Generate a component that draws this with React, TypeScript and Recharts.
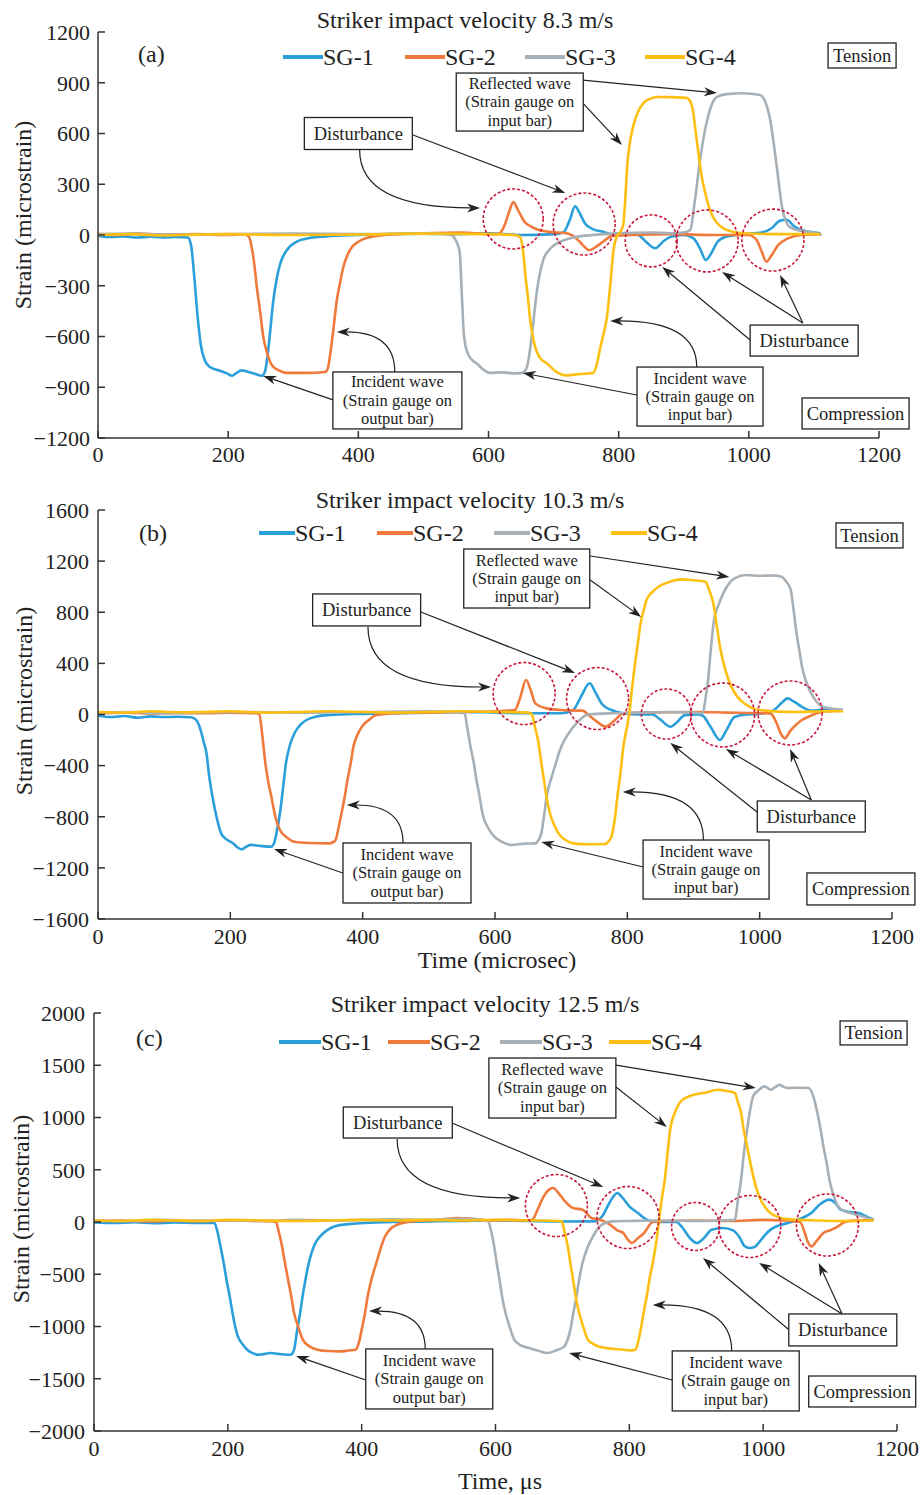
import React from 'react';
import { LineChart, Line, XAxis, YAxis, ReferenceDot, ReferenceLine } from 'recharts';

type Pt = [number, number];
type Box = { t: number; v: number; lines: string[]; w: number; h: number };
type Arrow = { from: Pt; to: Pt; curved?: boolean };
type Circ = { t: number; v: number; r: number };

const FONT = '"Liberation Serif", "Times New Roman", Times, serif';
const SERIES_NAMES = ['SG-1', 'SG-2', 'SG-3', 'SG-4'];
const SERIES_COLORS = ['#2b9fd9', '#ef7a3c', '#a7b0b7', '#fdc012'];
const X_TICKS = [0, 200, 400, 600, 800, 1000, 1200];
const A_Y_TICKS = [-1200, -900, -600, -300, 0, 300, 600, 900, 1200];
const B_Y_TICKS = [-1600, -1200, -800, -400, 0, 400, 800, 1200, 1600];
const C_Y_TICKS = [-2000, -1500, -1000, -500, 0, 500, 1000, 1500, 2000];

// ---------- Panel (a): 8.3 m/s ----------
const A_SG1: Pt[] = [[0,-5],[20,-12],[40,-8],[60,-15],[80,-10],[100,-14],[120,-12],[138,-15],[143,-60],[148,-250],[153,-480],[158,-650],[164,-740],[172,-780],[185,-800],[198,-818],[206,-832],[212,-818],[220,-800],[230,-808],[242,-822],[252,-832],[257,-800],[261,-700],[265,-550],[269,-400],[274,-270],[280,-170],[290,-90],[305,-40],[325,-18],[350,-8],[400,0],[450,5],[500,8],[550,5],[600,10],[650,0],[700,5],[715,15],[725,90],[733,170],[740,130],[748,70],[760,35],[775,20],[790,5],[810,10],[830,0],[842,-40],[856,-78],[868,-40],[880,-10],[900,0],[915,-20],[925,-80],[934,-148],[942,-110],[952,-40],[965,-10],[990,5],[1020,15],[1035,40],[1048,85],[1058,90],[1070,50],[1085,25],[1100,15],[1110,10]];
const A_SG2: Pt[] = [[0,5],[30,0],[60,8],[100,2],[150,5],[200,0],[225,3],[232,-10],[237,-90],[241,-200],[244,-307],[249,-450],[254,-603],[260,-700],[267,-768],[278,-800],[290,-815],[320,-815],[349,-810],[353,-790],[357,-700],[361,-580],[367,-384],[372,-280],[377,-189],[387,-89],[400,-40],[415,-15],[440,0],[500,10],[560,15],[600,5],[615,5],[625,60],[632,140],[638,195],[645,150],[655,80],[667,47],[690,20],[720,10],[735,-20],[745,-60],[755,-90],[765,-70],[776,-40],[790,-5],[820,0],[880,5],[950,0],[1000,0],[1012,-30],[1020,-100],[1027,-158],[1035,-120],[1045,-60],[1060,-20],[1080,0],[1110,5]];
const A_SG3: Pt[] = [[0,5],[50,8],[100,3],[200,5],[300,8],[400,5],[500,10],[540,5],[548,-20],[553,-60],[556,-110],[559,-350],[562,-580],[567,-690],[575,-740],[582,-760],[592,-795],[602,-815],[620,-812],[640,-818],[652,-815],[659,-780],[663,-700],[667,-580],[674,-343],[684,-148],[695,-80],[710,-40],[730,-15],[760,0],[800,10],[850,15],[880,10],[900,15],[910,30],[917,200],[925,443],[935,662],[943,770],[951,816],[966,833],[990,838],[1017,828],[1025,790],[1032,698],[1043,402],[1051,166],[1063,47],[1080,25],[1094,18],[1112,0]];
const A_SG4: Pt[] = [[0,0],[50,5],[100,-3],[150,2],[200,5],[300,0],[400,3],[500,8],[600,5],[640,0],[648,-10],[653,-90],[657,-250],[660,-350],[664,-500],[668,-600],[678,-720],[690,-760],[705,-810],[720,-830],[740,-822],[761,-815],[766,-770],[771,-680],[777,-580],[782,-485],[787,-300],[792,-90],[797,-10],[803,20],[807,60],[810,200],[813,402],[817,540],[822,638],[830,730],[838,780],[848,805],[859,816],[880,815],[905,810],[910,790],[914,739],[918,620],[922,502],[927,360],[933,248],[945,106],[966,30],[991,10],[1050,5],[1110,5]];

const A_BOXES: Box[] = [
  { t: 400, v: 600, lines: ['Disturbance'], w: 108, h: 32 },
  { t: 648, v: 786, lines: ['Reflected wave', '(Strain gauge on', 'input bar)'], w: 127, h: 58 },
  { t: 1085, v: -624, lines: ['Disturbance'], w: 108, h: 31 },
  { t: 460, v: -978, lines: ['Incident wave', '(Strain gauge on', 'output bar)'], w: 129, h: 57 },
  { t: 925, v: -955, lines: ['Incident wave', '(Strain gauge on', 'input bar)'], w: 126, h: 59 },
  { t: 1174, v: 1061, lines: ['Tension'], w: 68, h: 25 },
  { t: 1164, v: -1055, lines: ['Compression'], w: 107, h: 31 },
];
const A_ARROWS: Arrow[] = [
  { from: [402, 502], to: [587, 160], curved: true },
  { from: [484, 591], to: [718, 248] },
  { from: [745, 916], to: [951, 839] },
  { from: [745, 780], to: [805, 532] },
  { from: [1002, -621], to: [867, -189] },
  { from: [1083, -520], to: [959, -219] },
  { from: [1083, -520], to: [1048, -236] },
  { from: [361, -975], to: [254, -833] },
  { from: [456, -810], to: [367, -573], curved: true },
  { from: [828, -946], to: [653, -816] },
  { from: [920, -780], to: [787, -508], curved: true },
];
const A_CIRCLES: Circ[] = [
  { t: 638, v: 95, r: 30 },
  { t: 747, v: 65, r: 31 },
  { t: 850, v: -35, r: 26 },
  { t: 936, v: -35, r: 31 },
  { t: 1037, v: -30, r: 31 },
];

// ---------- Panel (b): 10.3 m/s ----------
const B_SG1: Pt[] = [[0,-10],[20,-20],[40,-12],[60,-25],[80,-15],[100,-20],[120,-18],[140,-22],[148,-40],[155,-120],[160,-220],[164,-304],[168,-480],[173,-643],[180,-820],[186,-930],[195,-980],[204,-1008],[211,-1040],[217,-1055],[224,-1035],[231,-1020],[240,-1025],[248,-1030],[262,-1034],[266,-1008],[270,-920],[275,-773],[280,-560],[284,-382],[290,-240],[297,-147],[306,-80],[315,-43],[330,-15],[350,-4],[400,5],[450,10],[500,15],[550,20],[600,15],[650,10],[700,10],[718,35],[730,140],[743,244],[752,170],[762,80],[776,35],[794,9],[820,0],[838,0],[850,-40],[865,-96],[875,-60],[887,-5],[905,0],[914,-10],[925,-90],[940,-199],[950,-120],[962,-20],[980,0],[998,5],[1020,30],[1035,100],[1042,126],[1052,100],[1064,60],[1078,30],[1100,40],[1126,35]];
const B_SG2: Pt[] = [[0,10],[40,15],[80,8],[120,12],[160,10],[200,15],[238,10],[244,0],[248,-150],[253,-382],[257,-520],[262,-643],[268,-800],[275,-904],[285,-960],[297,-995],[320,-1005],[350,-1008],[359,-982],[363,-900],[368,-773],[373,-640],[377,-512],[382,-380],[386,-252],[392,-160],[399,-95],[410,-40],[421,-4],[450,10],[500,15],[550,20],[600,25],[620,30],[630,35],[638,130],[647,270],[654,190],[661,87],[678,48],[700,35],[732,30],[745,-20],[755,-60],[767,-95],[780,-50],[794,9],[820,15],[900,20],[950,15],[1000,10],[1016,9],[1025,-60],[1032,-150],[1038,-187],[1046,-130],[1055,-80],[1064,-43],[1075,-15],[1086,9],[1100,25],[1126,30]];
const B_SG3: Pt[] = [[0,15],[50,20],[100,10],[150,15],[200,20],[300,15],[400,20],[500,25],[545,15],[554,9],[558,-100],[563,-252],[568,-380],[572,-512],[577,-650],[581,-773],[590,-890],[599,-956],[612,-1000],[625,-1021],[645,-1010],[661,-1008],[666,-980],[670,-930],[674,-800],[678,-643],[685,-500],[692,-382],[698,-280],[705,-200],[715,-120],[723,-69],[741,0],[780,10],[820,15],[860,20],[900,15],[914,9],[918,120],[922,270],[926,500],[931,739],[938,860],[945,948],[953,1020],[962,1065],[980,1091],[1000,1085],[1020,1088],[1033,1078],[1040,1040],[1047,974],[1051,830],[1055,661],[1060,500],[1064,374],[1070,260],[1078,165],[1086,100],[1095,61],[1110,45],[1126,35]];
const B_SG4: Pt[] = [[0,20],[40,15],[80,25],[120,18],[160,20],[200,25],[250,15],[300,20],[350,25],[400,20],[450,15],[500,20],[550,25],[600,20],[650,15],[656,0],[660,-90],[665,-200],[670,-380],[674,-512],[678,-650],[683,-773],[690,-870],[696,-930],[706,-980],[718,-1008],[740,-1015],[767,-1013],[772,-990],[776,-956],[781,-820],[785,-643],[790,-440],[794,-252],[799,-110],[803,9],[807,200],[811,374],[816,560],[820,713],[825,820],[829,896],[838,960],[847,1000],[865,1040],[882,1057],[900,1050],[918,1039],[924,970],[931,843],[935,700],[940,530],[946,390],[953,270],[962,170],[971,113],[985,60],[998,35],[1050,20],[1100,25],[1126,25]];

const B_BOXES: Box[] = [
  { t: 406, v: 818, lines: ['Disturbance'], w: 108, h: 32 },
  { t: 648, v: 1064, lines: ['Reflected wave', '(Strain gauge on', 'input bar)'], w: 126, h: 59 },
  { t: 1078, v: -798, lines: ['Disturbance'], w: 108, h: 31 },
  { t: 467, v: -1240, lines: ['Incident wave', '(Strain gauge on', 'output bar)'], w: 128, h: 60 },
  { t: 919, v: -1213, lines: ['Incident wave', '(Strain gauge on', 'input bar)'], w: 126, h: 59 },
  { t: 1166, v: 1401, lines: ['Tension'], w: 67, h: 25 },
  { t: 1153, v: -1365, lines: ['Compression'], w: 108, h: 32 },
];
const B_ARROWS: Arrow[] = [
  { from: [408, 685], to: [594, 215], curved: true },
  { from: [488, 802], to: [721, 325] },
  { from: [744, 1240], to: [954, 1076] },
  { from: [744, 1052], to: [821, 763] },
  { from: [998, -771], to: [865, -223] },
  { from: [1078, -669], to: [949, -270] },
  { from: [1078, -669], to: [1046, -270] },
  { from: [370, -1240], to: [266, -1052] },
  { from: [461, -1006], to: [376, -708], curved: true },
  { from: [824, -1193], to: [670, -998] },
  { from: [915, -982], to: [793, -606], curved: true },
];
const B_CIRCLES: Circ[] = [
  { t: 644, v: 164, r: 31 },
  { t: 755, v: 125, r: 31 },
  { t: 859, v: 4, r: 25 },
  { t: 944, v: -4, r: 32 },
  { t: 1046, v: 12, r: 32 },
];

// ---------- Panel (c): 12.5 m/s ----------
const C_SG1: Pt[] = [[0,-5],[30,-10],[60,-3],[90,-12],[120,-5],[150,-8],[180,-10],[184,-80],[189,-233],[194,-400],[198,-552],[203,-720],[207,-871],[211,-1000],[215,-1094],[222,-1170],[229,-1222],[237,-1255],[246,-1270],[255,-1262],[264,-1254],[275,-1262],[285,-1268],[294,-1270],[299,-1222],[303,-1060],[308,-871],[312,-700],[316,-552],[320,-420],[325,-297],[331,-200],[338,-137],[348,-80],[360,-41],[380,-20],[404,-10],[450,0],[500,5],[550,10],[600,15],[650,10],[700,5],[747,6],[760,60],[770,180],[782,278],[790,230],[800,150],[813,86],[826,22],[835,6],[850,0],[870,0],[880,-60],[890,-150],[901,-201],[912,-150],[923,-73],[940,-57],[955,-80],[965,-150],[972,-230],[980,-249],[987,-240],[993,-201],[1002,-130],[1011,-73],[1025,-30],[1037,-10],[1055,30],[1072,86],[1085,170],[1099,214],[1108,180],[1116,118],[1130,95],[1143,86],[1155,50],[1165,22]];
const C_SG2: Pt[] = [[0,10],[40,15],[80,5],[120,12],[160,8],[200,15],[240,10],[268,5],[272,0],[276,-90],[281,-233],[285,-380],[290,-552],[295,-720],[299,-871],[305,-1000],[312,-1126],[322,-1190],[334,-1222],[350,-1235],[369,-1238],[380,-1230],[391,-1222],[396,-1150],[400,-1030],[405,-870],[409,-711],[415,-540],[422,-392],[428,-260],[435,-137],[444,-60],[453,-26],[475,6],[500,15],[520,25],[545,38],[565,30],[590,15],[620,20],[645,15],[655,22],[663,120],[672,246],[680,310],[686,325],[695,270],[704,198],[716,134],[730,118],[737,80],[743,38],[756,22],[770,-20],[782,-80],[791,-105],[798,-170],[804,-201],[812,-160],[822,-105],[835,0],[860,10],[900,15],[950,10],[1000,20],[1030,15],[1055,0],[1062,-100],[1066,-180],[1072,-233],[1080,-180],[1090,-105],[1100,-80],[1108,-57],[1125,6],[1145,15],[1165,20]];
const C_SG3: Pt[] = [[0,15],[50,10],[100,20],[150,12],[200,15],[250,10],[300,20],[350,15],[400,20],[450,25],[500,20],[550,30],[580,20],[589,6],[594,-100],[598,-233],[602,-400],[606,-552],[610,-720],[615,-871],[621,-1000],[628,-1126],[638,-1180],[650,-1206],[663,-1230],[677,-1254],[690,-1230],[703,-1190],[708,-1120],[712,-1030],[716,-880],[721,-711],[725,-550],[730,-392],[736,-270],[743,-169],[750,-90],[756,-41],[774,6],[800,10],[850,15],[900,10],[940,15],[958,22],[962,200],[967,405],[971,650],[976,884],[980,1050],[985,1203],[993,1260],[1002,1298],[1011,1266],[1018,1290],[1024,1314],[1030,1295],[1037,1282],[1050,1285],[1068,1282],[1075,1200],[1081,1043],[1086,880],[1090,724],[1095,560],[1099,405],[1105,260],[1112,150],[1120,110],[1130,86],[1150,50],[1165,22]];
const C_SG4: Pt[] = [[0,15],[40,10],[80,20],[120,15],[160,10],[200,20],[250,15],[300,10],[350,15],[400,20],[450,15],[500,20],[550,15],[600,20],[650,15],[695,10],[699,6],[703,-90],[708,-233],[712,-400],[716,-552],[720,-720],[725,-871],[731,-1000],[738,-1126],[750,-1180],[765,-1206],[778,-1215],[791,-1222],[800,-1230],[809,-1222],[813,-1150],[817,-1030],[821,-880],[826,-711],[830,-550],[835,-392],[840,-200],[844,-10],[848,200],[853,405],[857,650],[861,884],[867,1030],[875,1139],[885,1190],[897,1219],[915,1240],[932,1266],[945,1255],[958,1234],[962,1150],[967,1043],[971,880],[976,724],[982,530],[989,341],[995,230],[1002,150],[1010,90],[1020,54],[1040,25],[1080,15],[1120,10],[1165,15]];

const C_BOXES: Box[] = [
  { t: 685, v: 1282, lines: ['Reflected wave', '(Strain gauge on', 'input bar)'], w: 127, h: 60 },
  { t: 454, v: 952, lines: ['Disturbance'], w: 109, h: 31 },
  { t: 1119, v: -1033, lines: ['Disturbance'], w: 108, h: 32 },
  { t: 501, v: -1502, lines: ['Incident wave', '(Strain gauge on', 'output bar)'], w: 127, h: 60 },
  { t: 959, v: -1521, lines: ['Incident wave', '(Strain gauge on', 'input bar)'], w: 127, h: 60 },
  { t: 1165, v: 1809, lines: ['Tension'], w: 67, h: 24 },
  { t: 1148, v: -1622, lines: ['Compression'], w: 107, h: 31 },
];
const C_ARROWS: Arrow[] = [
  { from: [780, 1502], to: [989, 1282] },
  { from: [780, 1292], to: [856, 909] },
  { from: [453, 794], to: [637, 230], curved: true },
  { from: [535, 947], to: [761, 335] },
  { from: [1039, -1033], to: [910, -344] },
  { from: [1118, -880], to: [994, -392] },
  { from: [1118, -880], to: [1083, -392] },
  { from: [406, -1512], to: [302, -1282] },
  { from: [495, -1215], to: [411, -852], curved: true },
  { from: [864, -1512], to: [710, -1254] },
  { from: [953, -1234], to: [835, -794], curved: true },
];
const C_CIRCLES: Circ[] = [
  { t: 691, v: 158, r: 31 },
  { t: 798, v: 43, r: 31 },
  { t: 899, v: -43, r: 24 },
  { t: 980, v: -43, r: 31 },
  { t: 1096, v: -29, r: 31 },
];

const fmt = (v: number) => (v < 0 ? '\u2212' + Math.abs(v) : String(v));
const toRows = (pts: Pt[]) => pts.map(([t, v]) => ({ t, v }));

function boxShape(b: Box) {
  return (p: any) => {
    const { cx, cy } = p;
    if (cx == null || cy == null) return <g />;
    const multi = b.lines.length > 1;
    const fs = multi ? 16.5 : 18.5;
    const lh = multi ? 18.4 : fs;
    const y0 = cy - ((b.lines.length - 1) * lh) / 2 + fs * 0.33;
    return (
      <g>
        <rect x={cx - b.w / 2} y={cy - b.h / 2} width={b.w} height={b.h} fill="#fff" stroke="#222" strokeWidth={1.3} />
        {b.lines.map((s, i) => (
          <text key={i} x={cx} y={y0 + i * lh} textAnchor="middle" fontFamily={FONT} fontSize={fs} fill="#222">{s}</text>
        ))}
      </g>
    );
  };
}

function circleShape(c: Circ) {
  return (p: any) => {
    const { cx, cy } = p;
    if (cx == null || cy == null) return <g />;
    return <circle cx={cx} cy={cy} r={c.r} fill="none" stroke="#c8193c" strokeWidth={1.6} strokeDasharray="3 2" />;
  };
}

function arrowShape(curved: boolean) {
  return (p: any) => {
    const { x1, y1, x2, y2 } = p;
    if ([x1, y1, x2, y2].some((n) => n == null || isNaN(n))) return <g />;
    const qx = x1;
    const qy = y2;
    let dx = curved ? x2 - qx : x2 - x1;
    let dy = curved ? y2 - qy : y2 - y1;
    const len = Math.hypot(dx, dy) || 1;
    dx /= len;
    dy /= len;
    const L = 13;
    const W = 4.5;
    const bx = x2 - dx * L;
    const by = y2 - dy * L;
    const nx = -dy;
    const ny = dx;
    const mx = x2 - dx * L * 0.7;
    const my = y2 - dy * L * 0.7;
    const d = curved ? `M${x1},${y1} Q${qx},${qy} ${mx},${my}` : `M${x1},${y1} L${mx},${my}`;
    const head = `M${x2},${y2} L${bx + nx * W},${by + ny * W} L${mx},${my} L${bx - nx * W},${by - ny * W} Z`;
    return (
      <g>
        <path d={d} fill="none" stroke="#222" strokeWidth={1.2} />
        <path d={head} fill="#222" />
      </g>
    );
  };
}

type PanelCfg = {
  top: number;
  height: number;
  margin: { top: number; right: number; bottom: number; left: number };
  xAxisHeight: number;
  yDomain: [number, number];
  yTicks: number[];
  series: Pt[][];
  boxes: Box[];
  arrows: Arrow[];
  circles: Circ[];
  tickMargin: number;
};

const PANELS: PanelCfg[] = [
  { top: 0, height: 475, margin: { top: 32, right: 43, bottom: 7, left: 38 }, xAxisHeight: 30, yDomain: [-1200, 1200], yTicks: A_Y_TICKS, series: [A_SG1, A_SG2, A_SG3, A_SG4], boxes: A_BOXES, arrows: A_ARROWS, circles: A_CIRCLES, tickMargin: 15 },
  { top: 475, height: 510, margin: { top: 35, right: 30, bottom: 11, left: 38 }, xAxisHeight: 55, yDomain: [-1600, 1600], yTicks: B_Y_TICKS, series: [B_SG1, B_SG2, B_SG3, B_SG4], boxes: B_BOXES, arrows: B_ARROWS, circles: B_CIRCLES, tickMargin: 16 },
  { top: 985, height: 510, margin: { top: 28, right: 25, bottom: 9, left: 34 }, xAxisHeight: 55, yDomain: [-2000, 2000], yTicks: C_Y_TICKS, series: [C_SG1, C_SG2, C_SG3, C_SG4], boxes: C_BOXES, arrows: C_ARROWS, circles: C_CIRCLES, tickMargin: 16 },
];

const TITLES = ['Striker impact velocity 8.3 m/s', 'Striker impact velocity 10.3 m/s', 'Striker impact velocity 12.5 m/s'];
const TAGS = ['(a)', '(b)', '(c)'];
const X_LABELS = ['', 'Time (microsec)', 'Time, \u03bcs'];
const Y_LABEL = 'Strain (microstrain)';

// overlay text placement (pixels)
const TITLE_POS = [[465, 28], [470, 508], [485, 1012]];
const TAG_POS = [[138, 62], [139, 541], [136, 1046]];
const YLABEL_POS = [[31, 215], [32, 701], [29, 1209]];
const XLABEL_POS = [[0, 0], [497, 968], [500, 1489]];
const LEGEND_X = [[283, 405, 525, 645], [259, 377, 494, 611], [279, 388, 500, 609]];
const LEGEND_LEN = [40, 36, 42];
const LEGEND_Y = [57, 533, 1042];

const axisStyle = { stroke: '#333', strokeWidth: 1.5 };
const tickStyle = { fontSize: 22, fill: '#222', fontFamily: FONT };

function Panel({ cfg }: { cfg: PanelCfg }) {
  return (
    <div style={{ position: 'absolute', left: 0, top: cfg.top, width: 922, height: cfg.height }}>
      <LineChart width={922} height={cfg.height} margin={cfg.margin}>
        <XAxis
          dataKey="t"
          type="number"
          domain={[0, 1200]}
          ticks={X_TICKS}
          interval={0}
          allowDataOverflow
          height={cfg.xAxisHeight}
          tickSize={-7}
          tickMargin={cfg.tickMargin}
          axisLine={axisStyle}
          tickLine={axisStyle}
          tick={tickStyle}
        />
        <YAxis
          type="number"
          domain={cfg.yDomain}
          ticks={cfg.yTicks}
          interval={0}
          allowDataOverflow
          width={60}
          tickSize={-7}
          tickMargin={cfg.tickMargin}
          tickFormatter={fmt}
          axisLine={axisStyle}
          tickLine={axisStyle}
          tick={tickStyle}
        />
        {cfg.series.map((s, i) => (
          <Line
            key={SERIES_NAMES[i]}
            name={SERIES_NAMES[i]}
            data={toRows(s)}
            dataKey="v"
            type="monotone"
            stroke={SERIES_COLORS[i]}
            strokeWidth={2.6}
            dot={false}
            activeDot={false}
            isAnimationActive={false}
          />
        ))}
        {cfg.circles.map((c, i) => (
          <ReferenceDot key={'c' + i} x={c.t} y={c.v} r={c.r} ifOverflow="visible" shape={circleShape(c)} />
        ))}
        {cfg.arrows.map((a, i) => (
          <ReferenceLine
            key={'a' + i}
            segment={[{ x: a.from[0], y: a.from[1] }, { x: a.to[0], y: a.to[1] }]}
            ifOverflow="visible"
            shape={arrowShape(!!a.curved)}
          />
        ))}
        {cfg.boxes.map((b, i) => (
          <ReferenceDot key={'b' + i} x={b.t} y={b.v} r={1} ifOverflow="visible" shape={boxShape(b)} />
        ))}
      </LineChart>
    </div>
  );
}

export default function App() {
  return (
    <div style={{ position: 'absolute', left: 0, top: 0, width: 922, height: 1495, background: '#fff', overflow: 'hidden' }}>
      {PANELS.map((p, i) => (
        <Panel key={i} cfg={p} />
      ))}
      <svg width={922} height={1495} style={{ position: 'absolute', left: 0, top: 0, pointerEvents: 'none' }}>
        {PANELS.map((_, i) => (
          <g key={i} fontFamily={FONT} fill="#222">
            <text x={TITLE_POS[i][0]} y={TITLE_POS[i][1]} textAnchor="middle" fontSize={24}>{TITLES[i]}</text>
            <text x={TAG_POS[i][0]} y={TAG_POS[i][1]} fontSize={24}>{TAGS[i]}</text>
            <text
              x={YLABEL_POS[i][0]}
              y={YLABEL_POS[i][1]}
              textAnchor="middle"
              fontSize={24}
              transform={`rotate(-90 ${YLABEL_POS[i][0]} ${YLABEL_POS[i][1]})`}
            >
              {Y_LABEL}
            </text>
            {X_LABELS[i] ? (
              <text x={XLABEL_POS[i][0]} y={XLABEL_POS[i][1]} textAnchor="middle" fontSize={24}>{X_LABELS[i]}</text>
            ) : null}
            {SERIES_NAMES.map((n, k) => (
              <g key={n}>
                <line
                  x1={LEGEND_X[i][k]}
                  x2={LEGEND_X[i][k] + LEGEND_LEN[i]}
                  y1={LEGEND_Y[i]}
                  y2={LEGEND_Y[i]}
                  stroke={SERIES_COLORS[k]}
                  strokeWidth={4}
                />
                <text x={LEGEND_X[i][k] + LEGEND_LEN[i]} y={LEGEND_Y[i] + 8} fontSize={24}>{n}</text>
              </g>
            ))}
          </g>
        ))}
      </svg>
    </div>
  );
}
